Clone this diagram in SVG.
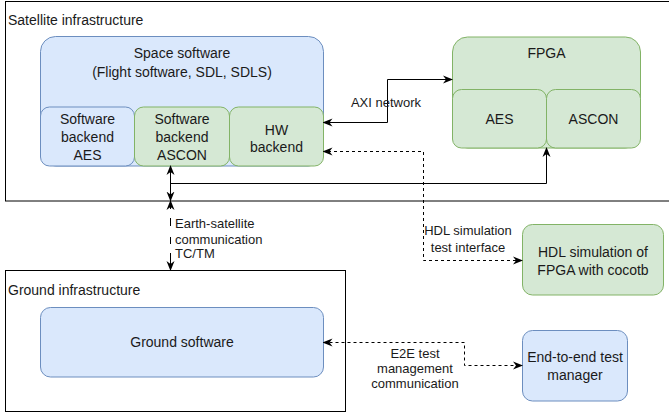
<svg xmlns="http://www.w3.org/2000/svg" width="669" height="413" viewBox="0 0 669 413">
<style>
text{font-family:"Liberation Sans",Arial,sans-serif;font-size:14px;fill:#1a1a1a}
.c{text-anchor:middle}
.e{font-size:13px}
.blue{fill:#dae8fc;stroke:#6c8ebf;stroke-width:1}
.green{fill:#d5e8d4;stroke:#82b366;stroke-width:1}
.cont{fill:#ffffff;stroke:#000000;stroke-width:1}
.ln{fill:none;stroke:#000000;stroke-width:1}
.dash{fill:none;stroke:#000000;stroke-width:1;stroke-dasharray:3 3}
</style>
<defs>
<marker id="ah" viewBox="0 0 10 10" refX="9" refY="5" markerWidth="10" markerHeight="10" markerUnits="userSpaceOnUse" orient="auto-start-reverse">
<path d="M0,1 L10,5 L0,9 L3,5 Z" fill="#000"/>
</marker>
</defs>
<g id="satellite">
<rect class="cont" x="5.5" y="1.5" width="680" height="199.5"/>
<text x="8" y="25">Satellite infrastructure</text>
</g>
<g id="ground">
<rect class="cont" x="5.5" y="270.5" width="340" height="141"/>
<text x="8" y="295">Ground infrastructure</text>
</g>
<g id="space-software">
<rect class="blue" x="40.5" y="36.5" width="283" height="129.5" rx="15"/>
<text class="c" x="182" y="58">Space software</text>
<text class="c" x="182" y="77">(Flight software, SDL, SDLS)</text>
</g>
<g id="sw-aes">
<rect class="blue" x="40.5" y="107" width="94" height="59" rx="9"/>
<text class="c" x="87.5" y="124">Software</text>
<text class="c" x="87.5" y="142">backend</text>
<text class="c" x="87.5" y="160">AES</text>
</g>
<g id="sw-ascon">
<rect class="green" x="134.5" y="107" width="95" height="59" rx="9"/>
<text class="c" x="182" y="124">Software</text>
<text class="c" x="182" y="142">backend</text>
<text class="c" x="182" y="160">ASCON</text>
</g>
<g id="hw-backend">
<rect class="green" x="229.5" y="107" width="94" height="59" rx="9"/>
<text class="c" x="276.5" y="135">HW</text>
<text class="c" x="276.5" y="152">backend</text>
</g>
<g id="fpga">
<rect class="green" x="452.5" y="37" width="188" height="111" rx="15"/>
<text class="c" x="546.5" y="58">FPGA</text>
</g>
<g id="fpga-aes">
<rect class="green" x="452.5" y="89.5" width="94" height="58.5" rx="9"/>
<text class="c" x="499.5" y="124">AES</text>
</g>
<g id="fpga-ascon">
<rect class="green" x="546.5" y="89.5" width="94" height="58.5" rx="9"/>
<text class="c" x="593.5" y="124">ASCON</text>
</g>
<g id="hdl-sim">
<rect class="green" x="522.5" y="224.5" width="141" height="70.5" rx="10"/>
<text class="c" x="593" y="257">HDL simulation of</text>
<text class="c" x="593" y="275">FPGA with cocotb</text>
</g>
<g id="ground-software">
<rect class="blue" x="40.5" y="307.5" width="283" height="69.5" rx="10"/>
<text class="c" x="182" y="347">Ground software</text>
</g>
<g id="e2e-manager">
<rect class="blue" x="522.5" y="330.5" width="105" height="70.5" rx="10"/>
<text class="c" x="575" y="362">End-to-end test</text>
<text class="c" x="575" y="380">manager</text>
</g>
<g id="connectors">
<polyline class="ln" points="323.5,122.5 387.5,122.5 387.5,79.5 452,79.5" marker-start="url(#ah)" marker-end="url(#ah)"/>
<text class="c e" x="386" y="106.5">AXI network</text>
<polyline class="dash" points="522,260.5 423.5,260.5 423.5,151.5 323.5,151.5" marker-start="url(#ah)" marker-end="url(#ah)"/>
<rect x="424" y="220" width="89" height="35" fill="#ffffff"/>
<text class="c e" x="468" y="234.5">HDL simulation</text>
<text class="c e" x="468" y="251.5">test interface</text>
<line class="ln" x1="170.5" y1="166" x2="170.5" y2="200.5" marker-start="url(#ah)" marker-end="url(#ah)"/>
<polyline class="ln" points="170.5,183.5 546.5,183.5 546.5,148" marker-end="url(#ah)"/>
<line class="ln" x1="170.5" y1="201" x2="170.5" y2="270" marker-start="url(#ah)" marker-end="url(#ah)"/>
<rect x="168" y="209" width="5" height="9" fill="#ffffff"/>
<rect x="168" y="226" width="5" height="11" fill="#ffffff"/>
<rect x="168" y="244" width="5" height="9" fill="#ffffff"/>
<text class="e" x="175" y="227.5">Earth-satellite</text>
<text class="e" x="175" y="243.5">communication</text>
<text class="e" x="175" y="257.5">TC/TM</text>
<polyline class="dash" points="323.5,342.5 464.5,342.5 464.5,365.5 522,365.5" marker-start="url(#ah)" marker-end="url(#ah)"/>
<rect x="371" y="346" width="90" height="45" fill="#ffffff"/>
<text class="c e" x="415" y="357.5">E2E test</text>
<text class="c e" x="415" y="372.5">management</text>
<text class="c e" x="415" y="387.5">communication</text>
</g>
</svg>
